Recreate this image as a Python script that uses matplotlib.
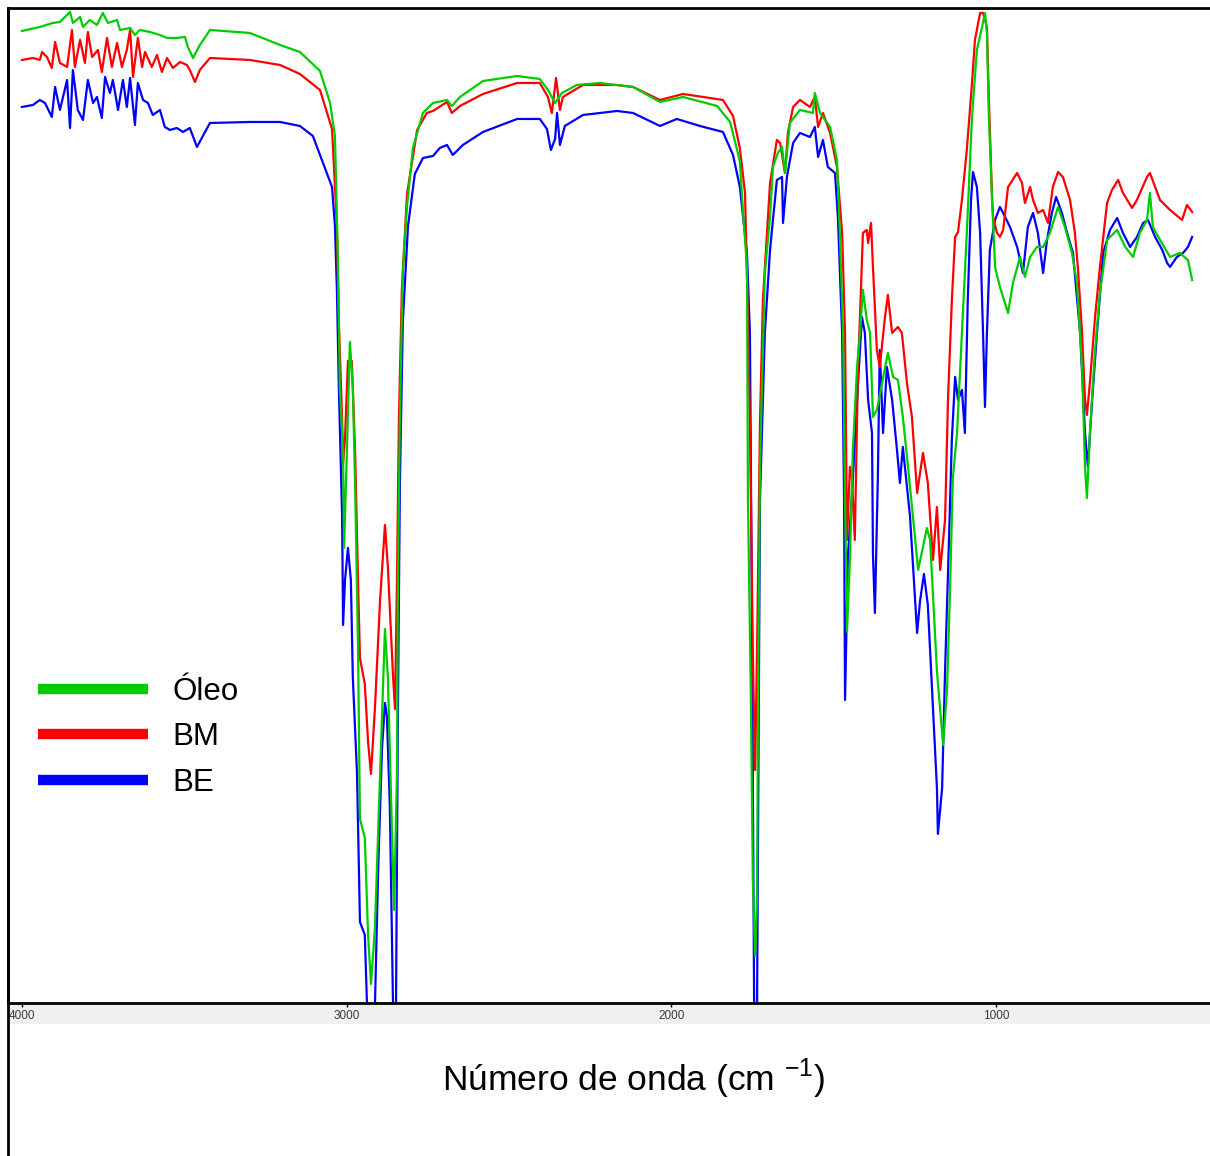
import matplotlib.pyplot as plt
from matplotlib.lines import Line2D
from matplotlib.patches import Rectangle

# espectros FTIR (numero de onda cm-1, transmitancia relativa)
oleo = [(4000, 97.2), (3945, 97.6), (3905, 98.0), (3883, 98.1), (3852, 99.1), (3843, 98.0),
        (3821, 98.6), (3812, 97.6), (3791, 98.3), (3769, 97.8), (3751, 99.0), (3735, 98.0),
        (3707, 98.3), (3698, 97.3), (3667, 97.5), (3652, 96.8), (3637, 97.3), (3606, 97.1),
        (3575, 96.8), (3553, 96.5), (3523, 96.5), (3498, 96.6), (3489, 95.6), (3473, 94.5),
        (3452, 95.8), (3421, 97.3), (3298, 97.0), (3205, 95.8), (3144, 95.1), (3082, 93.2),
        (3051, 90.0), (3036, 86.7), (3027, 74.5), (3021, 61.6), (3011, 55.2), (3008, 45.5),
        (2999, 55.3), (2990, 66.1), (2981, 61.6), (2974, 51.9), (2965, 35.8), (2959, 18.4),
        (2944, 16.5), (2934, 6.8), (2925, 1.9), (2913, 7.4), (2897, 22.9), (2882, 37.4),
        (2873, 32.6), (2860, 16.5), (2854, 9.3), (2845, 22.9), (2842, 42.3), (2836, 58.4),
        (2827, 73.2), (2814, 79.7), (2796, 85.5), (2765, 89.0), (2734, 90.0), (2691, 90.3),
        (2676, 89.7), (2651, 90.6), (2580, 92.2), (2475, 92.7), (2405, 92.4), (2380, 91.3),
        (2358, 90.0), (2337, 91.0), (2291, 91.8), (2220, 92.0), (2118, 91.6), (2035, 90.1),
        (1964, 90.6), (1859, 89.7), (1819, 88.1), (1789, 84.2), (1779, 79.0), (1767, 73.6),
        (1764, 50.3), (1755, 30.3), (1749, 12.3), (1742, 4.7), (1736, 10.3), (1733, 30.3),
        (1727, 53.6), (1712, 73.0), (1696, 78.6), (1687, 83.6), (1672, 85.0), (1659, 85.6),
        (1650, 83.0), (1635, 88.0), (1604, 89.3), (1564, 89.0), (1558, 91.0), (1542, 89.0),
        (1511, 87.6), (1490, 84.3), (1481, 77.0), (1471, 67.0), (1465, 50.3), (1459, 37.1),
        (1450, 44.3), (1441, 55.3), (1428, 63.6), (1419, 67.0), (1410, 71.3), (1398, 68.3),
        (1388, 67.0), (1379, 58.6), (1367, 59.3), (1351, 62.0), (1333, 65.0), (1317, 62.6),
        (1302, 62.3), (1287, 58.6), (1271, 53.6), (1250, 46.7), (1240, 43.3), (1225, 45.6),
        (1213, 47.5), (1203, 46.3), (1182, 33.2), (1163, 25.8), (1151, 31.3), (1142, 40.9),
        (1133, 52.5), (1120, 57.0), (1105, 67.0), (1090, 77.0), (1074, 88.6), (1059, 95.3),
        (1043, 97.6), (1034, 99.0), (1028, 97.0), (1022, 88.6), (1012, 80.3), (1003, 73.6),
        (988, 71.6), (963, 69.0), (948, 72.0), (926, 74.6), (911, 72.6), (895, 74.6),
        (874, 75.6), (855, 75.6), (834, 77.0), (809, 79.6), (788, 77.6), (766, 75.0),
        (751, 72.0), (735, 63.6), (726, 53.6), (720, 50.5), (711, 57.0), (695, 65.3),
        (680, 71.0), (658, 76.3), (627, 77.3), (602, 75.6), (578, 74.6), (557, 77.0),
        (535, 78.3), (526, 81.0), (517, 77.6), (495, 76.3), (464, 74.6), (434, 75.0),
        (409, 74.3), (396, 72.3)]

bm = [(4000, 94.3), (3966, 94.5), (3945, 94.3), (3938, 95.1), (3923, 94.6), (3908, 93.5),
      (3898, 96.1), (3883, 94.0), (3861, 93.6), (3846, 97.3), (3837, 93.6), (3821, 96.3),
      (3806, 94.0), (3797, 97.1), (3784, 94.6), (3766, 95.3), (3754, 93.1), (3738, 96.5),
      (3723, 93.6), (3707, 96.0), (3692, 93.6), (3677, 95.3), (3667, 97.3), (3658, 92.6),
      (3643, 96.5), (3630, 93.6), (3621, 95.1), (3600, 93.6), (3584, 94.8), (3569, 93.1),
      (3553, 94.5), (3535, 93.5), (3513, 94.1), (3492, 93.8), (3483, 93.3), (3467, 92.1),
      (3452, 93.3), (3421, 94.5), (3298, 94.3), (3205, 93.8), (3144, 92.9), (3082, 91.3),
      (3045, 87.4), (3030, 77.7), (3024, 68.1), (3014, 58.4), (3011, 53.9), (3005, 56.5),
      (2996, 64.2), (2984, 64.2), (2974, 55.2), (2965, 42.3), (2959, 34.5), (2944, 31.9),
      (2934, 26.1), (2925, 22.9), (2913, 29.4), (2897, 40.3), (2882, 47.8), (2873, 43.6),
      (2857, 32.6), (2851, 29.4), (2845, 42.3), (2839, 58.4), (2830, 71.3), (2814, 80.9),
      (2783, 87.3), (2753, 89.0), (2734, 89.2), (2691, 90.1), (2676, 89.0), (2651, 89.7),
      (2580, 90.9), (2475, 92.0), (2405, 92.0), (2380, 90.6), (2368, 89.0), (2355, 92.5),
      (2343, 89.3), (2334, 90.6), (2272, 91.8), (2167, 91.8), (2118, 91.6), (2035, 90.3),
      (1964, 90.9), (1841, 90.3), (1810, 88.7), (1789, 85.5), (1773, 81.0), (1764, 68.1),
      (1758, 58.4), (1749, 35.0), (1742, 23.3), (1736, 35.0), (1727, 58.0), (1718, 70.3),
      (1696, 82.0), (1675, 86.3), (1665, 86.0), (1650, 83.0), (1641, 87.0), (1625, 89.6),
      (1604, 90.3), (1573, 89.6), (1558, 90.6), (1548, 87.6), (1533, 89.0), (1511, 87.0),
      (1490, 83.6), (1474, 77.0), (1465, 67.0), (1459, 46.3), (1450, 53.6), (1444, 52.6),
      (1435, 46.3), (1425, 63.6), (1419, 68.6), (1410, 77.0), (1398, 77.3), (1394, 76.0),
      (1385, 78.0), (1379, 73.6), (1367, 65.3), (1358, 63.6), (1342, 68.6), (1333, 70.8),
      (1320, 67.0), (1302, 67.6), (1290, 67.0), (1274, 61.9), (1259, 58.6), (1243, 51.0),
      (1225, 55.0), (1210, 52.0), (1194, 44.3), (1182, 49.6), (1172, 43.3), (1157, 48.3),
      (1148, 60.3), (1136, 70.3), (1126, 76.6), (1117, 77.1), (1105, 80.3), (1090, 85.3),
      (1074, 92.0), (1065, 96.3), (1049, 99.0), (1040, 99.0), (1028, 97.6), (1022, 90.3),
      (1012, 80.3), (1009, 78.6), (997, 77.0), (988, 76.6), (978, 77.3), (963, 81.6),
      (935, 83.0), (920, 82.0), (911, 80.0), (895, 81.6), (886, 80.3), (871, 79.0),
      (855, 79.3), (840, 78.0), (825, 81.6), (809, 83.1), (794, 82.6), (772, 80.3),
      (757, 77.0), (748, 73.6), (735, 67.0), (726, 60.3), (720, 58.8), (711, 62.0),
      (695, 68.6), (680, 73.6), (658, 80.0), (643, 81.3), (624, 82.3), (609, 81.0),
      (581, 79.5), (566, 80.3), (535, 82.6), (526, 83.0), (510, 81.6), (495, 80.3),
      (464, 79.3), (427, 78.3), (412, 79.8), (396, 79.1)]

be = [(4000, 89.6), (3966, 89.8), (3945, 90.3), (3929, 90.0), (3908, 88.6), (3898, 91.6),
      (3883, 89.3), (3861, 92.3), (3852, 87.5), (3843, 93.3), (3828, 89.3), (3812, 88.3),
      (3797, 92.3), (3781, 90.0), (3769, 90.6), (3754, 88.5), (3744, 92.6), (3729, 91.0),
      (3720, 92.3), (3704, 89.3), (3689, 92.3), (3677, 89.6), (3667, 92.5), (3652, 87.8),
      (3643, 92.0), (3627, 90.3), (3612, 90.0), (3597, 88.8), (3575, 89.3), (3560, 87.6),
      (3544, 87.3), (3523, 87.5), (3504, 87.1), (3483, 87.5), (3461, 85.6), (3421, 88.0),
      (3298, 88.1), (3205, 88.1), (3144, 87.7), (3104, 86.7), (3067, 83.5), (3045, 81.6),
      (3036, 77.7), (3030, 71.3), (3024, 61.6), (3014, 48.7), (3011, 37.8), (3005, 42.3),
      (2996, 45.5), (2987, 42.3), (2981, 32.6), (2968, 22.9), (2959, 8.1), (2944, 6.8),
      (2937, -0.5), (2913, -0.5), (2903, 13.2), (2891, 25.5), (2882, 30.0), (2876, 28.7),
      (2867, 19.7), (2857, -0.5), (2848, -0.5), (2842, 29.4), (2836, 51.9), (2827, 68.1),
      (2811, 77.7), (2790, 82.9), (2765, 84.5), (2734, 84.7), (2713, 85.5), (2691, 85.8),
      (2673, 84.8), (2642, 85.8), (2580, 87.1), (2475, 88.4), (2405, 88.4), (2383, 87.4),
      (2371, 85.3), (2358, 86.4), (2352, 89.0), (2343, 85.8), (2328, 87.7), (2272, 88.8),
      (2167, 89.2), (2118, 89.0), (2035, 87.7), (1983, 88.4), (1912, 87.7), (1841, 87.1),
      (1810, 84.8), (1789, 81.6), (1767, 75.0), (1758, 67.0), (1752, 40.3), (1745, -0.5),
      (1736, -0.5), (1727, 50.3), (1712, 67.0), (1696, 75.3), (1675, 82.3), (1659, 82.6),
      (1656, 78.0), (1644, 82.6), (1625, 86.0), (1604, 87.0), (1573, 86.6), (1558, 87.6),
      (1548, 84.6), (1533, 86.3), (1518, 83.6), (1496, 83.0), (1487, 78.6), (1474, 67.0),
      (1468, 50.3), (1465, 30.3), (1456, 44.8), (1444, 50.6), (1425, 62.0), (1413, 68.6),
      (1404, 67.0), (1394, 60.3), (1382, 57.0), (1379, 44.8), (1373, 39.0), (1364, 52.5),
      (1358, 65.3), (1348, 57.0), (1336, 63.6), (1320, 60.3), (1305, 55.3), (1296, 52.0),
      (1287, 55.6), (1265, 48.7), (1243, 37.0), (1234, 40.2), (1222, 42.9), (1210, 39.8),
      (1194, 29.3), (1182, 21.5), (1179, 16.9), (1166, 21.5), (1157, 33.2), (1148, 42.9),
      (1136, 56.4), (1126, 62.6), (1117, 60.3), (1105, 61.3), (1096, 57.0), (1087, 70.3),
      (1077, 80.3), (1071, 83.1), (1059, 81.6), (1049, 77.0), (1040, 67.0), (1034, 59.6),
      (1028, 67.0), (1019, 75.3), (1003, 78.3), (988, 79.6), (972, 78.6), (957, 77.6),
      (935, 75.6), (917, 73.0), (902, 77.6), (886, 79.0), (871, 77.0), (855, 73.0),
      (843, 76.3), (828, 79.0), (815, 80.6), (797, 79.0), (781, 77.0), (763, 75.0),
      (741, 67.0), (726, 57.0), (717, 53.6), (704, 60.3), (689, 67.0), (670, 75.0),
      (649, 77.3), (627, 78.5), (609, 77.0), (587, 75.6), (566, 76.6), (547, 78.0),
      (532, 78.3), (510, 76.6), (488, 75.3), (473, 74.0), (464, 73.6), (443, 74.6),
      (424, 75.0), (409, 75.6), (396, 76.6)]

series = [("BE", be, "#0000ff"), ("BM", bm, "#ff0000"), ("Óleo", oleo, "#00cc00")]
ticks = [4000, 3000, 2000, 1000]

plt.rcParams['font.family'] = ['Liberation Sans', 'DejaVu Sans']

fig = plt.figure(figsize=(12.10, 11.56), dpi=100)
ax = fig.add_axes([0.0066, 0.1324, 0.9934, 0.8607])

for nome, dados, cor in series:
    x = [p[0] for p in dados]
    y = [p[1] for p in dados]
    ax.plot(x, y, color=cor, linewidth=1.6, label=nome)

ax.set_xlim(4043, 341)
ax.set_ylim(0, 99.5)
ax.set_yticks([])
ax.set_xticks(ticks)
ax.set_xticklabels([str(t) for t in ticks])
ax.tick_params(axis='x', direction='out', length=3, width=1, pad=2,
               labelsize=8.5, labelcolor='#3a3a3a')
ax.spines['right'].set_visible(False)
for lado in ['top', 'bottom', 'left']:
    ax.spines[lado].set_linewidth(2)

# faixa cinza com os rotulos do eixo
fig.add_artist(Rectangle((0.0066, 0.1142), 0.9934, 0.0182, transform=fig.transFigure,
                         facecolor='#f0f0f0', edgecolor='none', zorder=-1))
# borda esquerda ate o fim da figura
fig.add_artist(Line2D([0.0066, 0.0066], [0.0, 0.9931], transform=fig.transFigure,
                      color='black', linewidth=2))

fig.text(0.524, 0.067, 'Número de onda (cm $^{\\mathregular{-1}}$)', ha='center', va='center',
         fontsize=25.5)

handles = [Line2D([], [], color='#00cc00', linewidth=7.5, solid_capstyle='butt'),
           Line2D([], [], color='#ff0000', linewidth=7.5, solid_capstyle='butt'),
           Line2D([], [], color='#0000ff', linewidth=7.5, solid_capstyle='butt')]
ax.legend(handles, ['Óleo', 'BM', 'BE'], loc='upper left', bbox_to_anchor=(0.025, 0.328),
          frameon=False, fontsize=22.5, handlelength=3.52, handletextpad=0.77,
          labelspacing=0.5, borderpad=0, borderaxespad=0)

plt.savefig('out.png', dpi=100)
